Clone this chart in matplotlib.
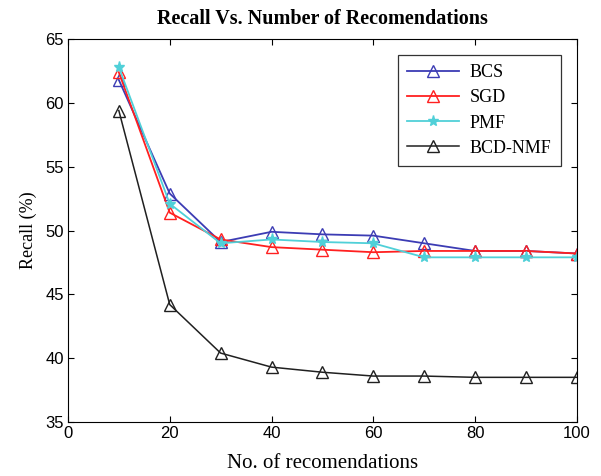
import matplotlib
matplotlib.use("Agg")
import matplotlib.pyplot as plt

# Recall (%) for each method against number of recommendations
n_recs = [10, 20, 30, 40, 50, 60, 70, 80, 90, 100]
bcs = [61.8, 52.9, 49.1, 49.9, 49.7, 49.6, 49.0, 48.4, 48.4, 48.2]
sgd = [62.4, 51.4, 49.3, 48.7, 48.5, 48.3, 48.4, 48.4, 48.4, 48.2]
pmf = [62.8, 52.1, 49.0, 49.3, 49.1, 49.0, 47.9, 47.9, 47.9, 47.9]
bcd_nmf = [59.4, 44.2, 40.4, 39.3, 38.9, 38.6, 38.6, 38.5, 38.5, 38.5]

plt.rcParams["font.family"] = ["Liberation Serif", "DejaVu Serif"]

fig = plt.figure(figsize=(6.01, 4.76), dpi=100)
ax = fig.add_axes([0.113, 0.1134, 0.847, 0.8046])

ax.plot(n_recs, bcs, color="#3c3cb4", marker="^", markersize=9, markerfacecolor="none",
        linewidth=1.3, label="BCS")
ax.plot(n_recs, sgd, color="#ff2020", marker="^", markersize=9, markerfacecolor="none",
        linewidth=1.3, label="SGD")
ax.plot(n_recs, pmf, color="#50d0d8", marker="*", markersize=8, linewidth=1.3, label="PMF")
ax.plot(n_recs, bcd_nmf, color="#202020", marker="^", markersize=9, markerfacecolor="none",
        linewidth=1.1, label="BCD-NMF")

ax.set_xlim(0, 100)
ax.set_ylim(35, 65)
ax.set_xticks(range(0, 101, 20))
ax.set_yticks(range(35, 66, 5))
ax.tick_params(direction="in", top=True, right=True, labelsize=12, length=4, pad=3)
for lbl in ax.get_xticklabels() + ax.get_yticklabels():
    lbl.set_family(["Liberation Sans Narrow", "Liberation Sans", "DejaVu Sans"])

ax.set_title("Recall Vs. Number of Recomendations", fontsize=14.5, fontweight="bold", pad=11)
ax.set_xlabel("No. of recomendations", fontsize=15, labelpad=9)
ax.set_ylabel("Recall (%)", fontsize=13, labelpad=6)

leg = ax.legend(loc="upper right", fontsize=13, fancybox=False, edgecolor="black",
                borderaxespad=0.9, handlelength=2.9, handletextpad=0.6,
                labelspacing=0.45, borderpad=0.5)
leg.get_frame().set_linewidth(0.9)

fig.savefig("out.png", dpi=100)
